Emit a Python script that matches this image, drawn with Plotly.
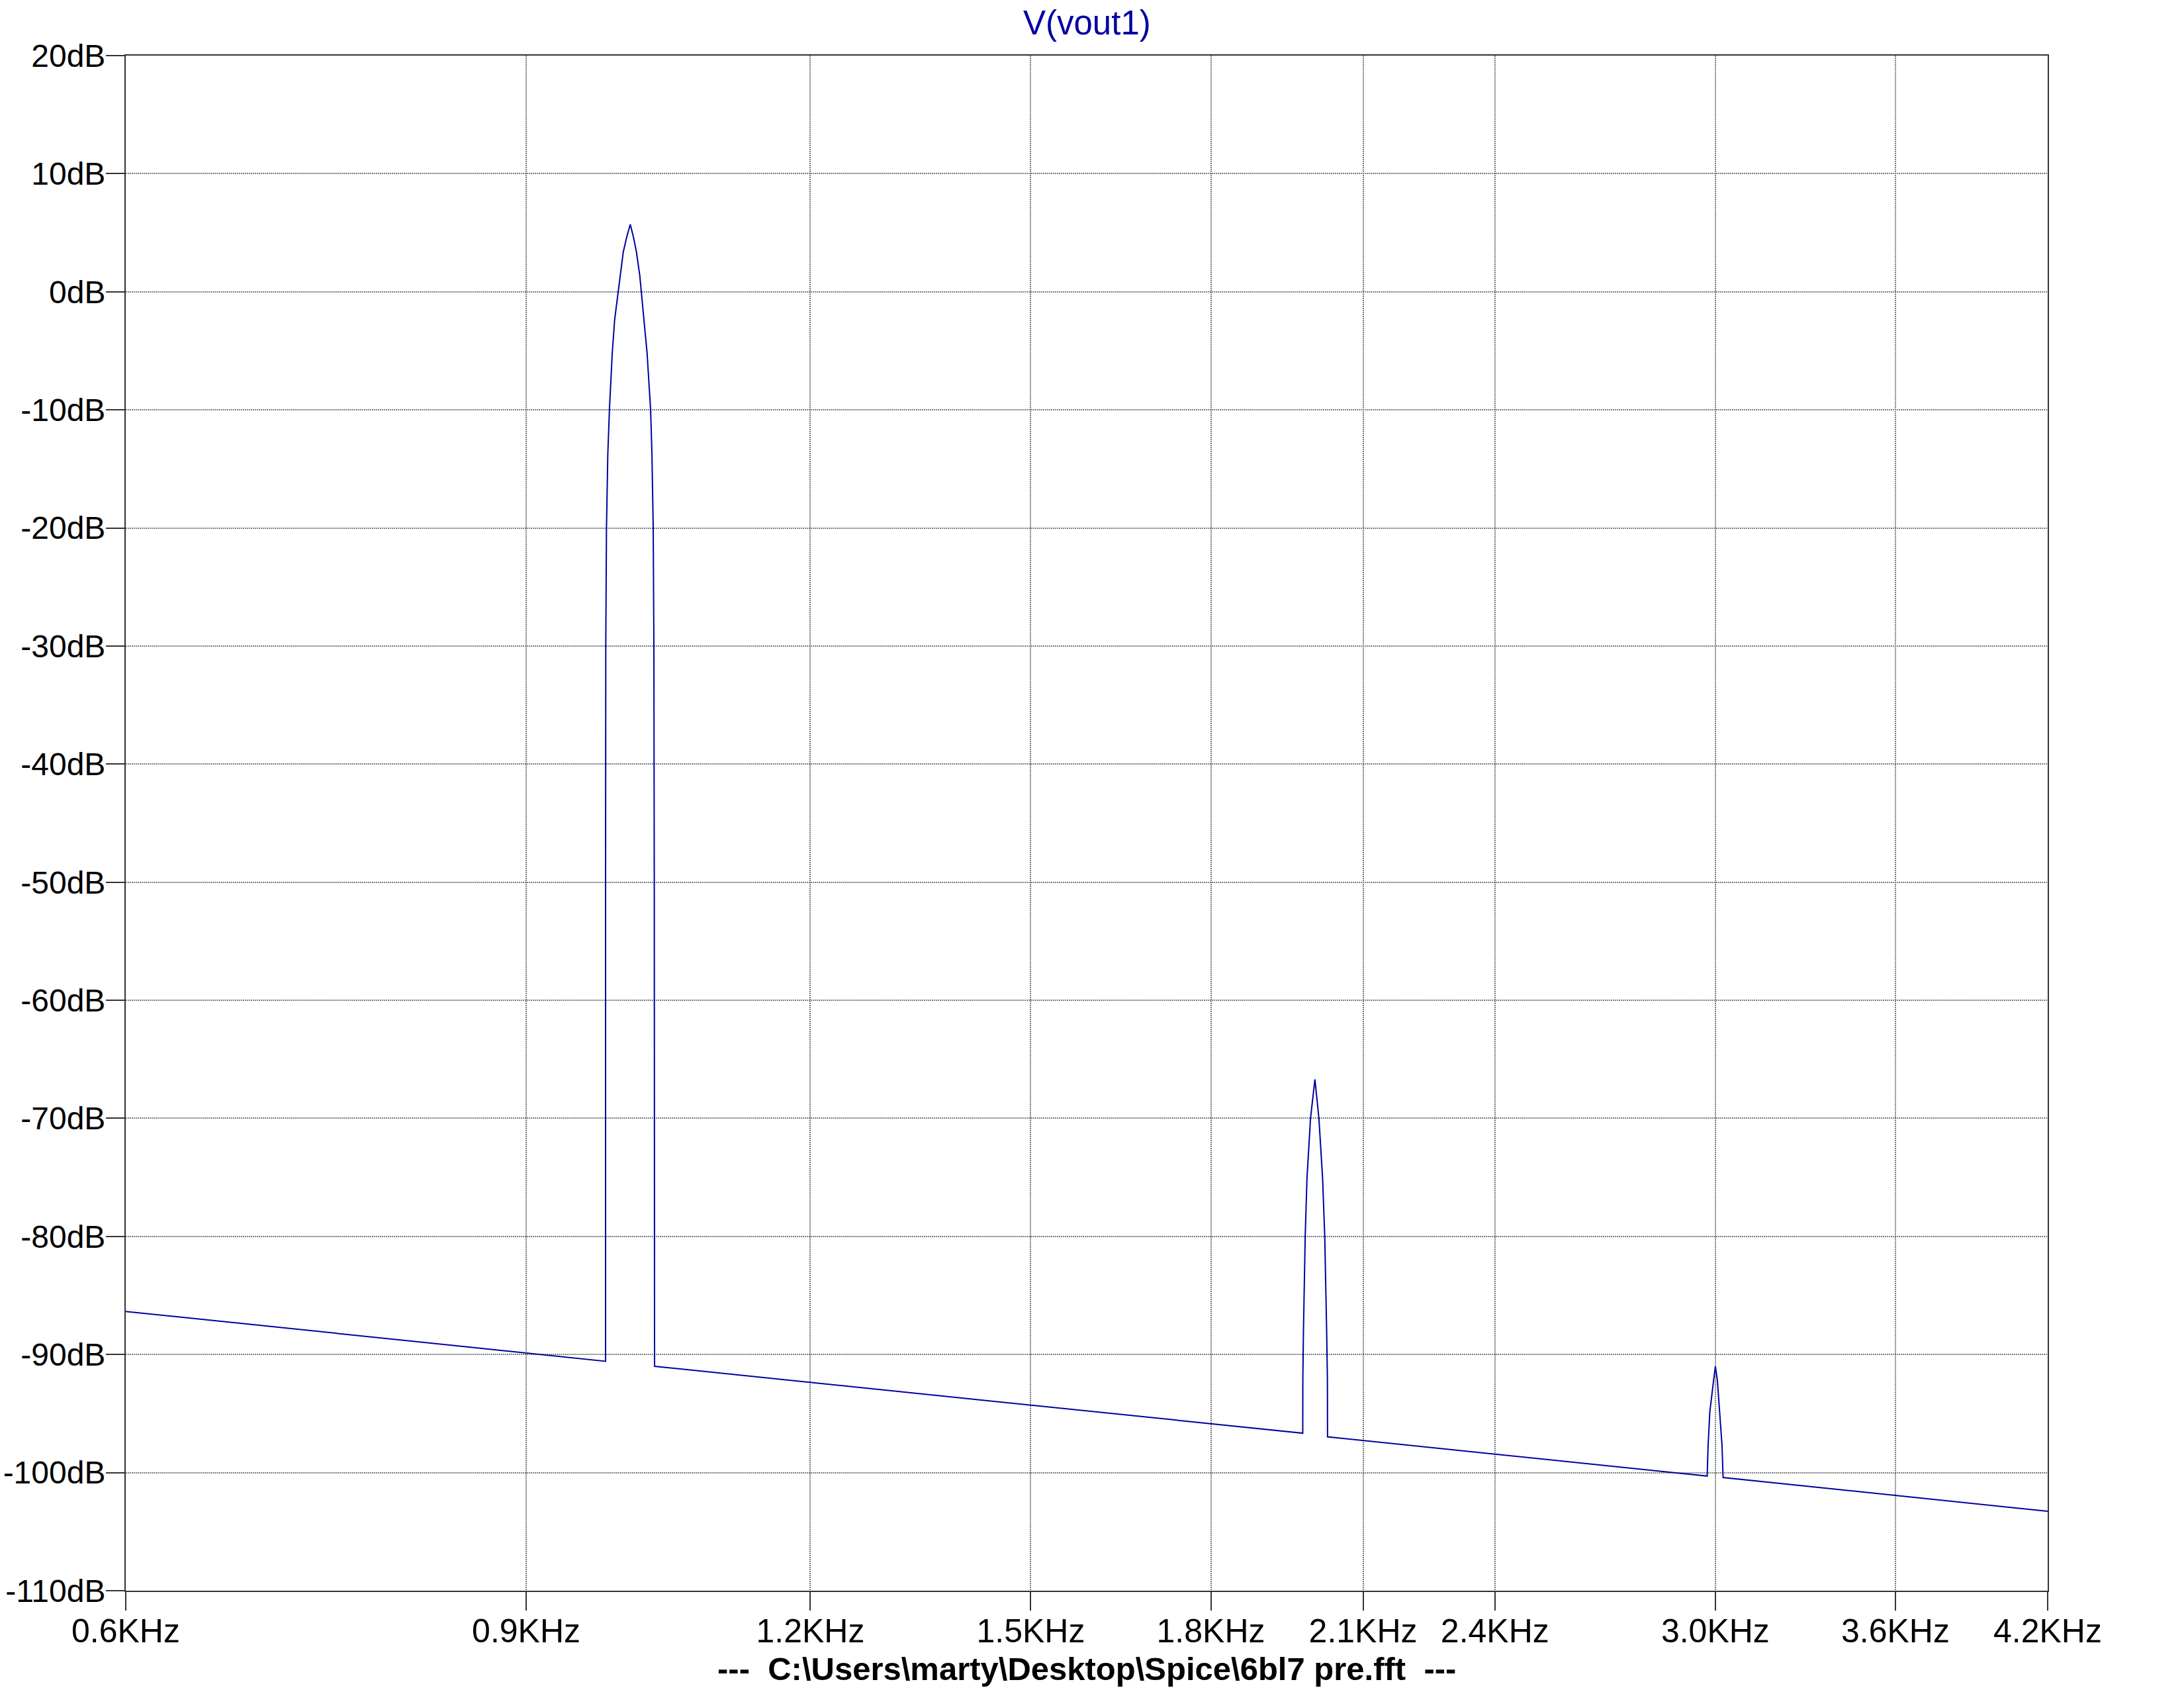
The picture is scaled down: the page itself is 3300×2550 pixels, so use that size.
import plotly.graph_objects as go
import math

# ---- data (frequency in kHz, level in dB) ----
floor_start_khz = [0.6]
floor_start_db = [-86.35]

peak1_khz = [0.9753, 0.9753, 0.9755, 0.9762, 0.9775, 0.9791, 0.9819, 0.9843, 0.9878, 0.9905,
             0.9929, 0.9966, 1.0000, 1.0033, 1.0063, 1.0097, 1.0113, 1.0142, 1.0172, 1.0208,
             1.0222, 1.0235, 1.0242, 1.0246, 1.0249]
peak1_db = [-90.57, -50.0, -30.0, -20.0, -13.8, -10.0, -5.23, -2.37, 0.0, 1.8,
            3.35, 4.7, 5.70, 4.6, 3.35, 1.35, 0.0, -2.37, -5.23, -10.0,
            -13.8, -20.0, -30.0, -50.0, -91.0]

peak2_khz = [1.9756, 1.9758, 1.9770, 1.9805, 1.9841, 1.9912, 2.0001, 2.0082, 2.0157, 2.0201,
             2.0240, 2.0255, 2.0258]
peak2_db = [-96.66, -92.0, -88.0, -80.0, -75.07, -70.0, -66.7, -70.0, -75.07, -80.0,
            -88.0, -92.0, -96.97]

peak3_khz = [2.9753, 2.9781, 2.9833, 2.9947, 3.0001, 3.0062, 3.0134, 3.0203, 3.0236]
peak3_db = [-100.29, -97.68, -94.87, -92.2, -90.99, -92.2, -94.87, -97.68, -100.42]

floor_end_khz = [4.2]
floor_end_db = [-103.27]

x_tick_vals = [0.6, 0.9, 1.2, 1.5, 1.8, 2.1, 2.4, 3.0, 3.6, 4.2]
x_tick_text = ["0.6KHz", "0.9KHz", "1.2KHz", "1.5KHz", "1.8KHz", "2.1KHz", "2.4KHz",
               "3.0KHz", "3.6KHz", "4.2KHz"]
y_tick_vals = [20, 10, 0, -10, -20, -30, -40, -50, -60, -70, -80, -90, -100, -110]
y_tick_text = ["20dB", "10dB", "0dB", "-10dB", "-20dB", "-30dB", "-40dB", "-50dB", "-60dB",
               "-70dB", "-80dB", "-90dB", "-100dB", "-110dB"]

trace_name = "V(vout1)"
footer_text = "---  C:\\Users\\marty\\Desktop\\Spice\\6bl7 pre.fft  ---"

freq = floor_start_khz + peak1_khz + peak2_khz + peak3_khz + floor_end_khz
level = floor_start_db + peak1_db + peak2_db + peak3_db + floor_end_db

W, H = 3300, 2550
L, R, T, B = 190, 206, 84, 147
plot_h = H - T - B

TRACE_COLOR = "#0000A0"
FONT = "Liberation Sans, Arial, sans-serif"

fig = go.Figure()
fig.add_trace(go.Scatter(x=freq, y=level, mode="lines", name=trace_name,
                         line=dict(color=TRACE_COLOR, width=2), showlegend=False))

axis_common = dict(
    showline=True, mirror=True, linecolor="#333333", linewidth=2,
    showgrid=True, gridcolor="#7f7f7f", gridwidth=1.5, griddash="2px,1px",
    ticks="outside", ticklen=28, tickwidth=1.5, tickcolor="#333333",
    zeroline=False, automargin=False,
)

fig.update_xaxes(type="log", range=[math.log10(0.6), math.log10(4.2)],
                 tickvals=x_tick_vals, ticktext=x_tick_text, ticklabelstandoff=-12,
                 tickfont=dict(family=FONT, size=50, color="#000000"),
                 **axis_common)
fig.update_yaxes(range=[-110, 20], tickvals=y_tick_vals, ticktext=y_tick_text,
                 ticklabelstandoff=-9,
                 tickfont=dict(family=FONT, size=48, color="#000000"),
                 **axis_common)

fig.add_annotation(text=trace_name, xref="paper", yref="paper", x=0.5,
                   y=1 + (T - 34) / plot_h, xanchor="center", yanchor="middle",
                   showarrow=False, font=dict(family=FONT, size=51, color=TRACE_COLOR))
fig.add_annotation(text="<b>" + footer_text.replace("\\", "&#92;") + "</b>",
                   xref="paper", yref="paper", x=0.5,
                   y=-(2521 - (H - B)) / plot_h, xanchor="center", yanchor="middle",
                   showarrow=False, font=dict(family=FONT, size=49, color="#000000"))

fig.update_layout(
    width=W, height=H, autosize=False,
    margin=dict(l=L, r=R, t=T, b=B, pad=0),
    paper_bgcolor="white", plot_bgcolor="white",
)

fig.write_html("out.html", config={"displayModeBar": False},
               post_script="document.body.style.margin='0';document.body.style.overflow='hidden';")
